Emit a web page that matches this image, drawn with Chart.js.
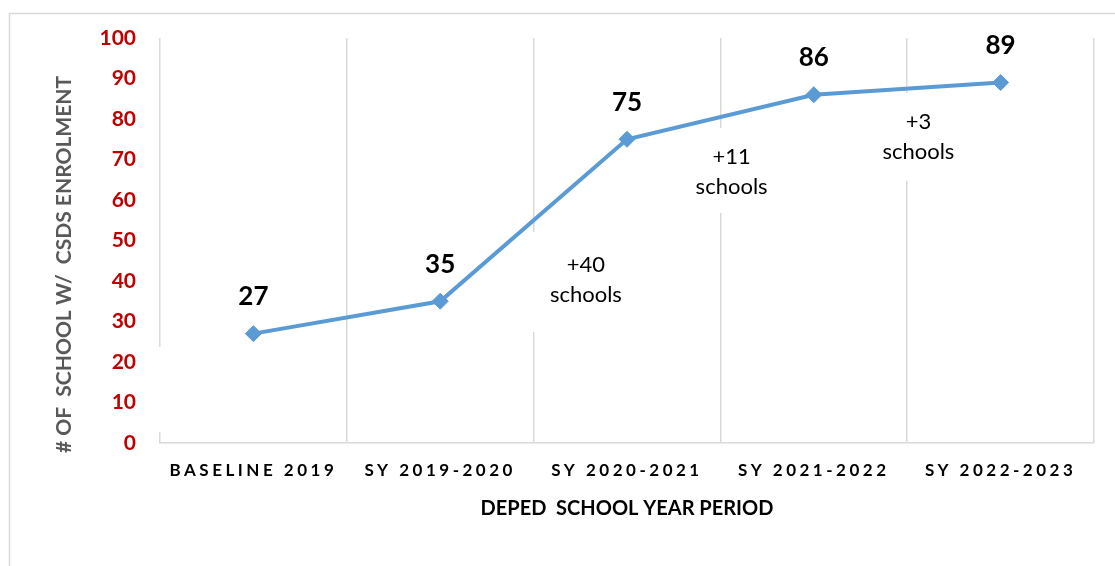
<!DOCTYPE html>
<html><head><meta charset="utf-8">
<script src="https://cdn.jsdelivr.net/npm/chart.js@4.4.1/dist/chart.umd.min.js"></script>
<style>html,body{margin:0;padding:0;background:#fff;}#wrap{width:1115px;height:566px;}</style>
</head><body><div id="wrap"><canvas id="c" width="1115" height="566"></canvas></div>
<script>
const categories = ['BASELINE 2019', 'SY 2019-2020', 'SY 2020-2021', 'SY 2021-2022', 'SY 2022-2023'];
const schoolCounts = [27, 35, 75, 86, 89];
const yTickValues = [0, 10, 20, 30, 40, 50, 60, 70, 80, 90, 100];
const gainNotes = [['+40', 'schools'], ['+11', 'schools'], ['+3', 'schools']];

const FONT = 'Lato, "Open Sans", sans-serif';
const notePlacement = [
  {cx: 1.78, cy: 40.2, top: 52.1, bottom: 27.4},
  {cx: 2.56, cy: 66.9, top: 77.8, bottom: 56.8},
  {cx: 3.56, cy: 75.5, top: 86.4, bottom: 64.7}
];

const framePlugin = {
  id: 'frame',
  beforeDraw(chart) {
    const ctx = chart.ctx;
    ctx.save();
    ctx.fillStyle = '#fff';
    ctx.fillRect(0, 0, chart.width, chart.height);
    ctx.strokeStyle = '#d9d9d9';
    ctx.lineWidth = 1.5;
    ctx.strokeRect(9.5, 13.5, 1300, 800);
    ctx.restore();
    const xs = chart.scales.x;
    if (xs && !xs._spaced) {
      const orig = xs.drawLabels.bind(xs);
      xs.drawLabels = function (area) {
        chart.ctx.save();
        chart.ctx.letterSpacing = '3.5px';
        orig(area);
        chart.ctx.restore();
      };
      xs._spaced = true;
    }
    const ys = chart.scales.y;
    if (ys && !ys._shifted) {
      const origT = ys.drawTitle.bind(ys);
      ys.drawTitle = function () {
        chart.ctx.save();
        chart.ctx.translate(0, 24);
        origT();
        chart.ctx.restore();
      };
      ys._shifted = true;
    }
  }
};

const notesPlugin = {
  id: 'notes',
  beforeDatasetsDraw(chart) {
    const ctx = chart.ctx, xs = chart.scales.x, ys = chart.scales.y;
    ctx.save();
    ctx.fillStyle = '#fff';
    const lx = chart.chartArea.left;
    ctx.fillRect(lx - 3, ys.getPixelForValue(23.7), 6, ys.getPixelForValue(2.7) - ys.getPixelForValue(23.7));
    ctx.font = '22px ' + FONT;
    ctx.textAlign = 'center';
    ctx.textBaseline = 'middle';
    gainNotes.forEach((lines, i) => {
      const p = notePlacement[i];
      const cx = xs.getPixelForValue(p.cx);
      const cy = ys.getPixelForValue(p.cy);
      const t = ys.getPixelForValue(p.top), b = ys.getPixelForValue(p.bottom);
      ctx.fillStyle = '#fff';
      ctx.fillRect(cx - 58, t, 116, b - t);
      ctx.fillStyle = '#000';
      ctx.fillText(lines[0], cx, cy - 15);
      ctx.fillText(lines[1], cx, cy + 15);
    });
    ctx.restore();
  },
  afterDatasetsDraw(chart) {
    const ctx = chart.ctx;
    const meta = chart.getDatasetMeta(0);
    ctx.save();
    ctx.font = 'bold 26px ' + FONT;
    ctx.fillStyle = '#000';
    ctx.textAlign = 'center';
    ctx.textBaseline = 'middle';
    meta.data.forEach((pt, i) => {
      ctx.fillText(String(schoolCounts[i]), pt.x, pt.y - 37);
    });
    ctx.restore();
  }
};

new Chart(document.getElementById('c'), {
  type: 'line',
  data: {
    labels: categories,
    datasets: [{
      data: schoolCounts,
      borderColor: '#5B9BD5',
      backgroundColor: '#5B9BD5',
      borderWidth: 4,
      pointStyle: 'rectRot',
      pointRadius: 8,
      pointBorderWidth: 1,
      tension: 0,
      fill: false
    }]
  },
  options: {
    responsive: false,
    animation: false,
    devicePixelRatio: 1,
    layout: {padding: {left: 0, top: 38, right: 21, bottom: 0}},
    plugins: {legend: {display: false}, tooltip: {enabled: false}},
    scales: {
      x: {
        type: 'category',
        offset: true,
        grid: {offset: true, color: '#d9d9d9', lineWidth: 1.5, drawTicks: false},
        border: {display: true, color: '#d9d9d9', width: 1.5},
        ticks: {
          autoSkip: false, maxRotation: 0, minRotation: 0, padding: 17,
          color: '#000', font: {family: FONT, size: 17, weight: 'bold'}
        },
        title: {
          display: true, text: 'DEPED  SCHOOL YEAR PERIOD', color: '#000',
          font: {family: FONT, size: 20, weight: 'bold'}, padding: {top: 0, bottom: 45}
        },
        afterFit(s) { s.height = 566 - 443; }
      },
      y: {
        min: 0, max: 100,
        afterBuildTicks(s) { s.ticks = yTickValues.map(v => ({value: v})); },
        grid: {display: false},
        border: {display: false},
        ticks: {
          padding: 16, color: '#C00000',
          font: {family: FONT, size: 21, weight: 'bold'}
        },
        title: {
          display: true, text: '# OF  SCHOOL W/  CSDS ENROLMENT', color: '#595959',
          font: {family: FONT, size: 21, weight: 'bold'}, padding: {top: 52, bottom: 0}
        },
        afterFit(s) { s.width = 160; }
      }
    }
  },
  plugins: [framePlugin, notesPlugin]
});
</script>
</body></html>
